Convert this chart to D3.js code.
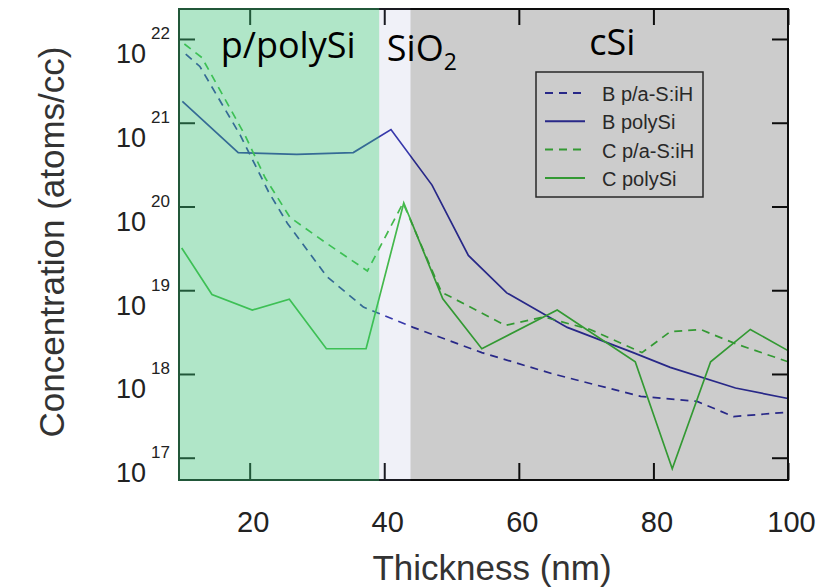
<!DOCTYPE html>
<html>
<head>
<meta charset="utf-8">
<title>Boron / carbon depth profile</title>
<script src="https://cdnjs.cloudflare.com/ajax/libs/d3/7.8.5/d3.min.js"></script>
<style>
  body { margin: 0; background: #fff; }
  svg { display: block; }
  .tick text { font-family: "Liberation Sans", Arial, sans-serif; fill: #222; }
  .axis-title { font-family: "Liberation Sans", Arial, sans-serif; font-size: 35px; fill: #333; }
  .layer-label { font-family: "Open Sans", sans-serif; font-size: 36px; fill: #000; }
  .legend text { font-family: "Liberation Sans", Arial, sans-serif; font-size: 20px; fill: #333; }
</style>
</head>
<body>
<div id="graph-container"></div>
<script>
// ================= data =================
// thickness in nm, concentration in atoms/cc
const bPaX    = [10.5, 12.6, 18.6, 22.8, 25.6, 31.5, 36.9, 44.3, 54.5, 65.1, 78.1, 86.5, 91.9, 100];
const bPaConc = [6.6e21, 4.7e21, 7.1e20, 1.5e20, 6.3e19, 1.45e19, 6.3e18, 3.6e18, 1.8e18, 1.0e18, 5.4e17, 4.7e17, 3.1e17, 3.5e17];

const bPolyX    = [10, 18.3, 27, 35.4, 41, 47.1, 52.5, 58.2, 67.2, 77, 82.5, 92.2, 100];
const bPolyConc = [1.8e21, 4.4e20, 4.2e20, 4.4e20, 8.3e20, 1.8e20, 2.6e19, 9.3e18, 3.6e18, 1.8e18, 1.2e18, 6.8e17, 5.1e17];

const cPaX    = [10.3, 12.9, 19.3, 22.3, 26, 31.5, 37.5, 42.8, 48.5, 58, 63.7, 70.6, 78.3, 82.5, 87, 92.2, 100];
const cPaConc = [8.7e21, 6.0e21, 7.1e20, 2.2e20, 7.4e19, 3.6e19, 1.7e19, 1.1e20, 9.5e18, 3.8e18, 4.8e18, 3.4e18, 1.8e18, 3.2e18, 3.4e18, 2.3e18, 1.4e18];

const cPolyX    = [9.9, 14.4, 20.4, 25.9, 31.4, 37.3, 42.9, 48.7, 54.5, 65.7, 77.3, 82.8, 88.5, 94.4, 100];
const cPolyConc = [3.2e19, 8.9e18, 5.8e18, 7.8e18, 2.0e18, 2.0e18, 1.1e20, 7.9e18, 2.0e18, 5.8e18, 1.4e18, 7.4e16, 1.4e18, 3.4e18, 1.9e18];

const seriesNames = ["B p/a-S:iH", "B polySi", "C p/a-S:iH", "C polySi"];

// layer stack (nm)
const layerNames = ["p/polySi", "SiO2", "cSi"];
const layerEdges = [9.5, 39.25, 43.9, 100];

const xTicks = [20, 40, 60, 80, 100];
const yTicks = [1e17, 1e18, 1e19, 1e20, 1e21, 1e22];

// ================= chart =================
const width = 831, height = 588;
const margin = { top: 9, right: 43, bottom: 108, left: 179 };
const innerW = width - margin.left - margin.right,
      innerH = height - margin.top - margin.bottom;

const x = d3.scaleLinear().domain([9.5, 100]).range([0, innerW]);
const y = d3.scaleLog().domain([Math.pow(10, 16.734), Math.pow(10, 22.358)]).range([innerH, 0]);

const svg = d3.select("#graph-container").append("svg")
    .attr("width", width)
    .attr("height", height);
const g = svg.append("g")
    .attr("transform", "translate(" + margin.left + "," + margin.top + ")");

// series styling
const blue = "#3232aa", green = "#40c040";
const series = [
  { name: seriesNames[0], xs: bPaX,   ys: bPaConc,   color: blue,  dash: "8,6" },
  { name: seriesNames[1], xs: bPolyX, ys: bPolyConc, color: blue,  dash: null },
  { name: seriesNames[2], xs: cPaX,   ys: cPaConc,   color: green, dash: "8,6" },
  { name: seriesNames[3], xs: cPolyX, ys: cPolyConc, color: green, dash: null }
];

const line = d3.line().x(d => x(d[0])).y(d => y(d[1]));

g.selectAll(".series")
  .data(series)
  .enter().append("path")
    .attr("class", "series")
    .attr("fill", "none")
    .attr("stroke", d => d.color)
    .attr("stroke-width", 1.7)
    .attr("stroke-dasharray", d => d.dash)
    .attr("d", d => line(d.xs.map((v, i) => [v, d.ys[i]])));

// axes (ticks point inward on all four sides)
function yLabels(sel) {
  sel.selectAll(".tick text").each(function(d) {
    const t = d3.select(this);
    t.text(null).attr("dy", null).attr("y", 24).attr("font-size", 27);
    t.append("tspan").text("10");
    t.append("tspan").attr("dx", 5).attr("dy", -24).attr("font-size", 17)
      .text(Math.round(Math.log10(d)));
  });
}

g.append("g")
  .call(d3.axisLeft(y).tickValues(yTicks).tickSizeInner(-16).tickSizeOuter(0).tickPadding(9))
  .call(yLabels);
g.append("g").attr("transform", "translate(" + innerW + ",0)")
  .call(d3.axisRight(y).tickValues(yTicks).tickSizeInner(-16).tickSizeOuter(0).tickFormat(""));
g.append("g").attr("transform", "translate(0," + innerH + ")")
  .call(d3.axisBottom(x).tickValues(xTicks).tickSizeInner(-17).tickSizeOuter(0).tickPadding(31))
  .call(s => s.selectAll(".tick text").attr("font-size", 29).attr("dx", 3));
g.append("g")
  .call(d3.axisTop(x).tickValues(xTicks).tickSizeInner(-16).tickSizeOuter(0).tickFormat(""));

g.selectAll(".domain").remove();
g.selectAll(".tick line").attr("stroke", "#111").attr("stroke-width", 2);

g.append("rect")
  .attr("width", innerW).attr("height", innerH)
  .attr("fill", "none").attr("stroke", "#111").attr("stroke-width", 2);

// legend
const legend = g.append("g").attr("class", "legend")
  .attr("transform", "translate(" + (536 - margin.left) + "," + (72 - margin.top) + ")");
legend.append("rect")
  .attr("width", 167).attr("height", 125)
  .attr("fill", "none").attr("stroke", "#333").attr("stroke-width", 1.5);
const item = legend.selectAll(".item")
  .data(series)
  .enter().append("g")
    .attr("class", "item")
    .attr("transform", (d, i) => "translate(0," + (21 + i * 28.3) + ")");
item.append("line")
  .attr("x1", 9).attr("x2", 49)
  .attr("stroke", d => d.color).attr("stroke-width", 2)
  .attr("stroke-dasharray", d => d.dash);
item.append("text")
  .attr("x", 66).attr("y", 8)
  .text(d => d.name);

// translucent layer shading on top of everything inside the frame
const shade = [
  { fill: "rgb(57,192,117)", opacity: 0.4 },
  { fill: "rgb(106,122,184)", opacity: 0.1 },
  { fill: "#000", opacity: 0.2 }
];
g.selectAll(".layer")
  .data(layerNames)
  .enter().append("rect")
    .attr("class", "layer")
    .attr("x", (d, i) => x(layerEdges[i]) - (i === 0 ? 1 : 0))
    .attr("width", (d, i) => x(layerEdges[i + 1]) - x(layerEdges[i]) + (i === 0 || i === 2 ? 1 : 0))
    .attr("y", -1)
    .attr("height", innerH + 2)
    .attr("fill", (d, i) => shade[i].fill)
    .attr("opacity", (d, i) => shade[i].opacity);

// layer names
const labelShift = [{ dx: 9, y: 49 }, { dx: 27, y: 52 }, { dx: 13, y: 46 }];
g.selectAll(".layer-label")
  .data(layerNames)
  .enter().append("text")
    .attr("class", "layer-label")
    .attr("text-anchor", "middle")
    .attr("x", (d, i) => (x(layerEdges[i]) + x(layerEdges[i + 1])) / 2 + labelShift[i].dx)
    .attr("y", (d, i) => labelShift[i].y)
    .each(function(d) {
      const t = d3.select(this);
      const m = d.match(/^(.*?)(\d+)$/);
      if (m) {
        t.append("tspan").text(m[1]);
        t.append("tspan").attr("font-size", 23).attr("dy", 9).text(m[2]);
      } else {
        t.text(d);
      }
    });

// axis titles
svg.append("text")
  .attr("class", "axis-title")
  .attr("text-anchor", "middle")
  .attr("x", 492).attr("y", 580)
  .text("Thickness (nm)");
svg.append("text")
  .attr("class", "axis-title")
  .attr("text-anchor", "middle")
  .attr("transform", "translate(64,242) rotate(-90)")
  .text("Concentration (atoms/cc)");
</script>
</body>
</html>
